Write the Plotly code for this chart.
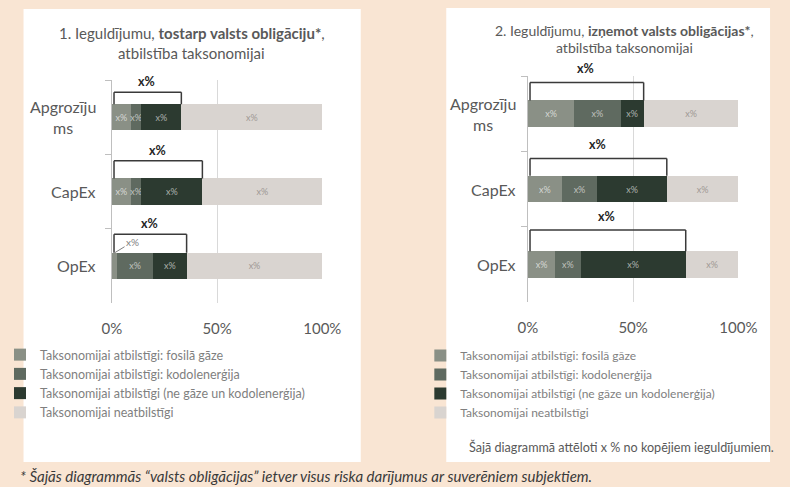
import plotly.graph_objects as go

# ---------------- data ----------------
categories = ["Apgrozījums", "CapEx", "OpEx"]
category_labels = ["Apgrozīju<br>ms", "CapEx", "OpEx"]

series_names = [
    "Taksonomijai atbilstīgi: fosilā gāze",
    "Taksonomijai atbilstīgi: kodolenerģija",
    "Taksonomijai atbilstīgi (ne gāze un kodolenerģija)",
    "Taksonomijai neatbilstīgi",
]

# Chart 1: including sovereign bonds
fosil_1 = [0.09, 0.09, 0.025]
kodol_1 = [0.05, 0.05, 0.17]
aligned_1 = [0.19, 0.29, 0.16]
not_aligned_1 = [0.67, 0.57, 0.645]

# Chart 2: excluding sovereign bonds
fosil_2 = [0.22, 0.16, 0.13]
kodol_2 = [0.22, 0.17, 0.12]
aligned_2 = [0.11, 0.33, 0.50]
not_aligned_2 = [0.45, 0.34, 0.25]

seg_label = "x%"
total_label = "x%"
tick_vals = [0, 0.5, 1]
tick_text = ["0%", "50%", "100%"]

titles_1 = ["1. Ieguldījumu, <b>tostarp valsts obligāciju*</b>,", "atbilstība taksonomijai"]
titles_2 = ["2. Ieguldījumu, <b>izņemot valsts obligācijas*</b>,", "atbilstība taksonomijai"]
note_text = "Šajā diagrammā attēloti x % no kopējiem ieguldījumiem."
footnote_text = "* Šajās diagrammās “valsts obligācijas” ietver visus riska darījumus ar suverēniem subjektiem."

# ---------------- style ----------------
W, H = 790, 487
FONT = "Lato, 'Open Sans', sans-serif"
BG = "#F9E5D3"
colors = ["#8A9086", "#5F6A60", "#2C3A30", "#D9D4D0"]
seg_text_colors = ["rgba(255,255,255,0.65)", "rgba(255,255,255,0.6)",
                   "rgba(255,255,255,0.6)", "#9E9894"]
BAR_W = 0.35


def px(x):
    return x / W


def py(y):
    return 1 - y / H


panels = [
    dict(series=[fosil_1, kodol_1, aligned_1, not_aligned_1], titles=titles_1,
         xdom=(104, 323), ydom=(80, 303), box=(12, 9, 363, 462),
         title_x=187, title_y=(33, 53), title_size=15, legend_xy=(-13, 340), legend_size=12.5,
         bracket_h=[0.16, 0.24, 0.25], label_shift=1, cat_shift=-14),
    dict(series=[fosil_2, kodol_2, aligned_2, not_aligned_2], titles=titles_2,
         xdom=(537, 756), ydom=(76, 302), box=(452, 8, 789, 462),
         title_x=637, title_y=(30, 47), title_size=14, legend_xy=(425, 341), legend_size=12,
         bracket_h=[0.24, 0.23, 0.28], label_shift=4, cat_shift=-10),
]

fig = go.Figure()
shapes = []
annotations = []
layout_axes = {}
legends = {}

for p, pan in enumerate(panels):
    sfx = "" if p == 0 else str(p + 1)
    xa, ya = "x" + sfx, "y" + sfx
    leg = "legend" if p == 0 else "legend2"

    # white panel
    x0, y0, x1, y1 = pan["box"]
    shapes.append(dict(type="rect", xref="paper", yref="paper",
                       x0=px(x0), x1=px(x1), y0=py(y1), y1=py(y0),
                       fillcolor="white", line=dict(width=0), layer="below"))

    small = []
    for k, vals in enumerate(pan["series"]):
        texts = [seg_label if v >= 0.04 else "" for v in vals]
        small += [(k, i, v) for i, v in enumerate(vals) if v < 0.04]
        fig.add_trace(go.Bar(
            y=categories, x=vals, orientation="h", name=series_names[k],
            marker=dict(color=colors[k], line=dict(width=0)),
            width=BAR_W, text=texts, textposition="inside", textangle=0,
            insidetextanchor="middle",
            textfont=dict(family=FONT, size=9, color=seg_text_colors[k]),
            hoverinfo="skip", xaxis=xa, yaxis=ya, legend=leg,
        ))

    # taxonomy-aligned totals -> brackets
    sums = [sum(pan["series"][k][i] for k in range(3)) for i in range(len(categories))]
    for i, s in enumerate(sums):
        bot = i - BAR_W / 2
        top = bot - pan["bracket_h"][i]
        xl = 0.01
        line = dict(color="#3A3A3A", width=1.5)
        for (a, b, c, d) in [(xl, bot, xl, top), (xl, top, s, top), (s, top, s, bot)]:
            shapes.append(dict(type="line", xref=xa, yref=ya, x0=a, y0=b, x1=c, y1=d,
                               line=line, layer="above"))
        annotations.append(dict(xref=xa, yref=ya, x=s / 2, y=top, text="<b>" + total_label + "</b>",
                                showarrow=False, yanchor="bottom", yshift=pan["label_shift"],
                                font=dict(family=FONT, size=12.5, color="#262626")))

    # labels for segments too small to hold text
    for (k, i, v) in small:
        annotations.append(dict(xref=xa, yref=ya, x=v / 2, y=i - BAR_W / 2,
                                text=seg_label, showarrow=True, arrowhead=0,
                                arrowwidth=1, arrowcolor="#7F7F7F", ax=18, ay=-11,
                                standoff=0, font=dict(family=FONT, size=10, color="#7F7F7F")))

    # category labels
    for i, lab in enumerate(category_labels):
        annotations.append(dict(xref=xa + " domain", yref=ya, x=0, y=i, text=lab,
                                showarrow=False, xanchor="right", align="center",
                                xshift=pan["cat_shift"],
                                font=dict(family=FONT, size=16, color="#595959")))

    # titles
    for t, yy in zip(pan["titles"], pan["title_y"]):
        annotations.append(dict(xref="paper", yref="paper", x=px(pan["title_x"]), y=py(yy),
                                text=t, showarrow=False, xanchor="center", yanchor="middle",
                                font=dict(family=FONT, size=pan["title_size"], color="#595959")))

    layout_axes["xaxis" + sfx] = dict(
        domain=[px(pan["xdom"][0]), px(pan["xdom"][1])], anchor=ya, range=[0, 1],
        tickvals=tick_vals, ticktext=tick_text, showgrid=True, gridcolor="#D9D9D9",
        gridwidth=1, zeroline=False, showline=False, ticks="outside", ticklen=12,
        tickcolor="rgba(0,0,0,0)", tickfont=dict(family=FONT, size=15, color="#595959"),
        fixedrange=True)
    layout_axes["yaxis" + sfx] = dict(
        domain=[py(pan["ydom"][1]), py(pan["ydom"][0])], anchor=xa, type="category",
        categoryorder="array", categoryarray=categories, autorange="reversed",
        showticklabels=False, showline=True, linecolor="#BFBFBF", linewidth=1,
        ticks="outside", tickson="boundaries", ticklen=6, tickcolor="#BFBFBF",
        showgrid=False, zeroline=False, fixedrange=True)

    legends[leg] = dict(x=px(pan["legend_xy"][0]), y=py(pan["legend_xy"][1]),
                        xanchor="left", yanchor="top", bgcolor="rgba(0,0,0,0)",
                        font=dict(family=FONT, size=pan["legend_size"], color="#7F7F7F"),
                        traceorder="normal", orientation="v", tracegroupgap=0)

annotations.append(dict(xref="paper", yref="paper", x=px(474), y=py(447), text=note_text,
                        showarrow=False, xanchor="left", yanchor="middle",
                        font=dict(family=FONT, size=12.6, color="#595959")))
annotations.append(dict(xref="paper", yref="paper", x=px(6), y=py(476), text="<i>" + footnote_text + "</i>",
                        showarrow=False, xanchor="left", yanchor="middle",
                        font=dict(family=FONT, size=15, color="#3A3A3A")))

fig.update_layout(
    width=W, height=H, autosize=False,
    margin=dict(l=0, r=0, t=0, b=0),
    paper_bgcolor=BG, plot_bgcolor="rgba(0,0,0,0)",
    barmode="stack",
    shapes=shapes, annotations=annotations,
    uniformtext=dict(minsize=9, mode="show"),
    font=dict(family=FONT),
    **legends,
    **layout_axes,
)

fig.write_html("out.html",
               config={"displayModeBar": False, "staticPlot": False},
               post_script="document.body.style.margin='0';document.body.style.overflow='hidden';")
